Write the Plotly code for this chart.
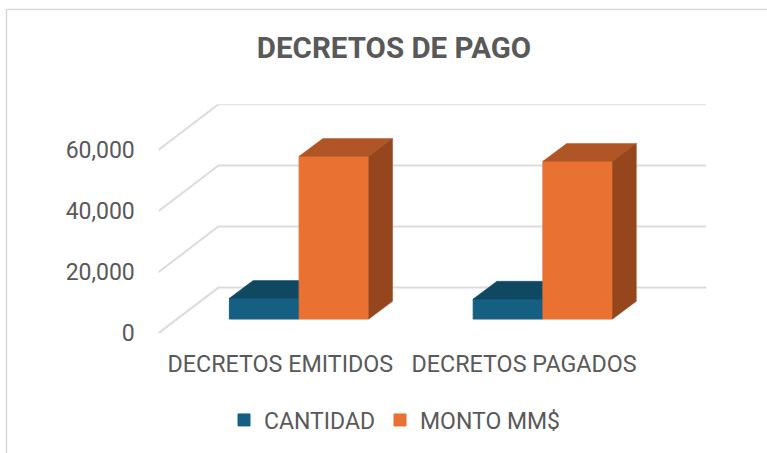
import plotly.graph_objects as go

categories = ["DECRETOS EMITIDOS", "DECRETOS PAGADOS"]
cantidad = [6775, 6550]
monto = [53250, 51620]
y_ticks = [0, 20000, 40000, 60000]

FONT = "Roboto"
TXT = "#595959"
W, H = 767, 453
# plot area in pixels
L, R, T, B = 158.4, 706.3, 104.3, 333.3
PX_PER_CAT = 243.8
PX_PER_UNIT = 183.3 / 60000
x_min = -0.5
x_max = x_min + (R - L) / PX_PER_CAT
y_max = (B - T) / PX_PER_UNIT

def dx(px): return px / PX_PER_CAT
def dy(px): return px / PX_PER_UNIT

wall_dx, wall_dy = dx(60), dy(45.7)
bar_off_x, bar_base = dx(18.8), dy(14.3)
bar_w = dx(69.7)
depth_x, depth_y = dx(23.7), dy(17.7)

fig = go.Figure()

# wall gridlines: diagonal on the side wall and horizontal on the back wall
for t in y_ticks:
    fig.add_trace(go.Scatter(
        x=[x_min, x_min + wall_dx, x_max], y=[t, t + wall_dy, t + wall_dy],
        mode="lines", line=dict(color="#dcdcdc", width=2),
        showlegend=False, hoverinfo="skip", xaxis="x", yaxis="y"))

def add_series(name, values, offset, front, top, side, xa, ya):
    xs = [i + bar_off_x + offset for i in range(len(values))]
    fig.add_trace(go.Bar(
        x=xs, y=values, base=[bar_base] * len(values), width=bar_w, name=name,
        marker=dict(color=front, line=dict(color=front, width=1)),
        xaxis=xa, yaxis=ya))
    for xc, v in zip(xs, values):
        l, r = xc - bar_w / 2, xc + bar_w / 2
        b, t_ = bar_base, bar_base + v
        fig.add_trace(go.Scatter(
            x=[l, r, r + depth_x, l + depth_x, l],
            y=[t_, t_, t_ + depth_y, t_ + depth_y, t_],
            mode="lines", fill="toself", fillcolor=top, line=dict(color=top, width=0.5),
            showlegend=False, hoverinfo="skip", xaxis=xa, yaxis=ya))
        fig.add_trace(go.Scatter(
            x=[r, r + depth_x, r + depth_x, r, r],
            y=[b, b + depth_y, t_ + depth_y, t_, b],
            mode="lines", fill="toself", fillcolor=side, line=dict(color=side, width=0.5),
            showlegend=False, hoverinfo="skip", xaxis=xa, yaxis=ya))

add_series("CANTIDAD", cantidad, -bar_w / 2, "#156082", "#104862", "#0D3A4F", "x", "y")
add_series("MONTO MM$", monto, bar_w / 2, "#E97132", "#B05525", "#95461D", "x2", "y2")

dom_x = [L / W, R / W]
dom_y = [1 - B / H, 1 - T / H]
fig.update_layout(
    width=W, height=H,
    margin=dict(l=0, r=0, t=0, b=0, autoexpand=False),
    paper_bgcolor="white", plot_bgcolor="rgba(0,0,0,0)",
    barmode="overlay",
    font=dict(family=FONT, color=TXT, size=23),
    title=dict(text="<b>DECRETOS DE PAGO</b>", x=394 / W, xanchor="center",
               y=1 - 48 / H, yanchor="middle",
               font=dict(family=FONT, size=29.5, color=TXT)),
    xaxis=dict(domain=dom_x, range=[x_min, x_max], tickmode="array", tickvals=[0, 1],
               ticktext=categories, showgrid=False, zeroline=False, showline=False,
               ticks="outside", ticklen=10, tickcolor="rgba(0,0,0,0)", tickfont=dict(size=23.3)),
    yaxis=dict(domain=dom_y, range=[0, y_max], tickmode="array", tickvals=y_ticks,
               tickformat=",", showgrid=False, zeroline=False, showline=False,
               ticks="outside", ticklen=18, tickcolor="rgba(0,0,0,0)"),
    xaxis2=dict(domain=dom_x, range=[x_min, x_max], overlaying="x", visible=False),
    yaxis2=dict(domain=dom_y, range=[0, y_max], overlaying="y", visible=False),
    legend=dict(orientation="h", x=395 / W, xanchor="center", y=1 - 420 / H, yanchor="middle",
                font=dict(family=FONT, size=23, color=TXT), bgcolor="rgba(0,0,0,0)"),
    shapes=[dict(type="line", xref="paper", yref="paper", x0=6.5 / W, x1=6.5 / W, y0=0, y1=1 - 9.5 / H,
                 line=dict(color="#d9d9d9", width=1.5)),
            dict(type="line", xref="paper", yref="paper", x0=6.5 / W, x1=1, y0=1 - 9.5 / H, y1=1 - 9.5 / H,
                 line=dict(color="#d9d9d9", width=1.5))],
)
fig.write_html("out.html", config=dict(displayModeBar=False),
               post_script="document.body.style.margin='0';document.documentElement.style.overflow='hidden';")
